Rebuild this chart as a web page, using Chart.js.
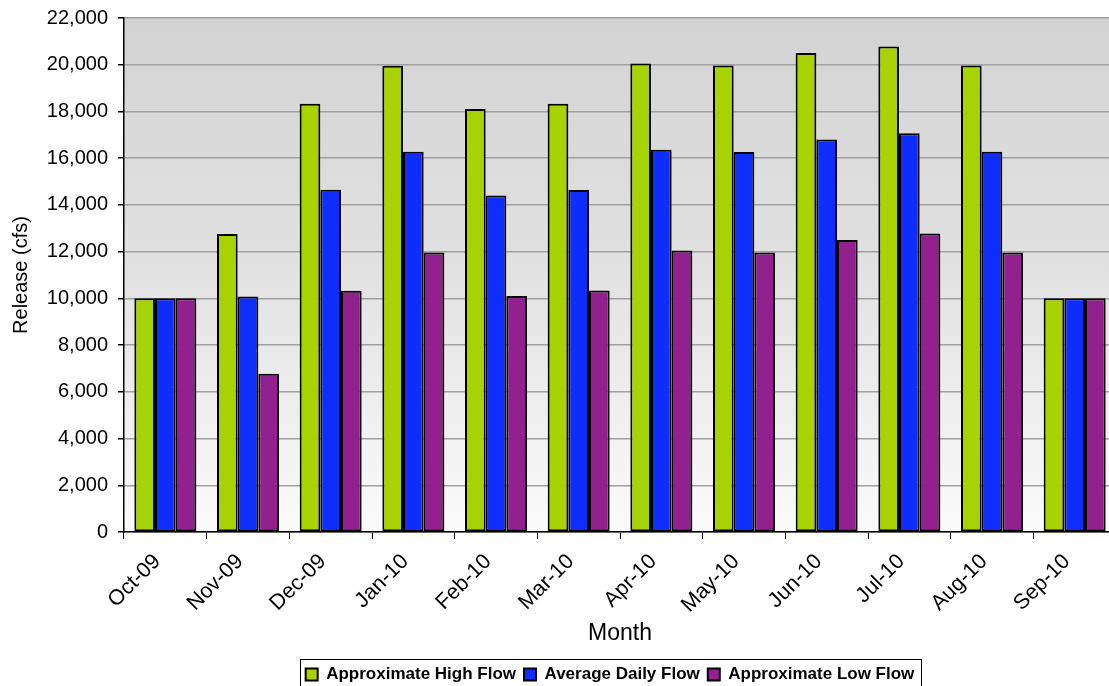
<!DOCTYPE html>
<html>
<head>
<meta charset="utf-8">
<script src="https://cdn.jsdelivr.net/npm/chart.js@4.4.1/dist/chart.umd.min.js"></script>
<style>
    html, body { margin: 0; padding: 0; background: #fff; overflow: hidden; }
    #wrap { width: 1116px; height: 686px; }
</style>
</head>
<body>
<div id="wrap"><canvas id="flowChart"></canvas></div>
<script>
// data
const months = ['Oct-09', 'Nov-09', 'Dec-09', 'Jan-10', 'Feb-10', 'Mar-10', 'Apr-10', 'May-10', 'Jun-10', 'Jul-10', 'Aug-10', 'Sep-10'];
const highFlow = [10000, 12750, 18330, 19960, 18100, 18330, 20050, 19970, 20500, 20780, 19970, 10000];
const avgFlow = [10000, 10080, 14650, 16270, 14400, 14640, 16360, 16260, 16800, 17070, 16270, 10000];
const lowFlow = [10000, 6770, 10330, 11960, 10100, 10340, 12050, 11960, 12500, 12780, 11960, 10000];
const seriesNames = ['Approximate High Flow', 'Average Daily Flow', 'Approximate Low Flow'];
const seriesColors = ['#A9D300', '#0D2EFF', '#93208F'];

const FONT = '"Liberation Sans", Arial, sans-serif';

//gradient behind the plot + legend frame
const plotBackground = {
    id: 'plotBackground',
    beforeDraw(chart) {
        const { ctx, chartArea: a } = chart;
        const g = ctx.createLinearGradient(0, a.top, 0, a.bottom);
        g.addColorStop(0, '#d3d3d3');
        g.addColorStop(0.5, '#e2e2e2');
        g.addColorStop(1, '#fbfbfb');
        ctx.save();
        ctx.fillStyle = g;
        ctx.fillRect(a.left, a.top, a.right - a.left, a.bottom - a.top);
        ctx.restore();

        // legend sits a bit left of the plot centre and lower, like the original
        const lg = chart.legend;
        if (lg && !lg._moved) {
            const half = (lg.right - lg.left) / 2;
            const cx = (a.left + a.right) / 2 - 10;
            lg.left = cx - half;
            lg.right = cx + half;
            lg.top += 7;
            lg.bottom += 7;
            lg._moved = true;
        }
    },
    afterDraw(chart) {
        const lg = chart.legend;
        if (!lg || !lg.lineWidths) return;
        const cx = (lg.left + lg.right) / 2;
        const w = lg.lineWidths[0] + 4;
        const { ctx } = chart;
        ctx.save();
        ctx.strokeStyle = '#000';
        ctx.lineWidth = 1;
        ctx.strokeRect(Math.round(cx - w / 2) + 0.5, lg.top + 1.5, Math.round(w), lg.height + 20);
        ctx.restore();
    }
};

const ctx = document.getElementById('flowChart');
const flowChart = new Chart(ctx, {
    type: 'bar',
    data: {
        labels: months,
        datasets: [highFlow, avgFlow, lowFlow].map((values, i) => ({
            label: seriesNames[i],
            data: values,
            backgroundColor: seriesColors[i],
            borderColor: '#000',
            borderWidth: 2,
            borderSkipped: false,
            categoryPercentage: 0.75,
            barPercentage: 1.0
        }))
    },
    options: {
        responsive: true,
        maintainAspectRatio: false,
        animation: false,
        layout: { autoPadding: false, padding: { top: 18, right: 0, left: 0, bottom: 0 } },
        plugins: {
            tooltip: { enabled: false },
            legend: {
                position: 'bottom',
                labels: {
                    color: '#000',
                    boxWidth: 12,
                    boxHeight: 12,
                    padding: 8,
                    font: { family: FONT, size: 17, weight: 'bold' }
                }
            }
        },
        scales: {
            x: {
                grid: {
                    offset: true,
                    drawOnChartArea: false,
                    drawTicks: true,
                    tickLength: 7,
                    tickColor: '#000'
                },
                border: { display: true, color: '#000', width: 1.5 },
                ticks: {
                    color: '#000',
                    autoSkip: false,
                    maxRotation: 45,
                    minRotation: 45,
                    padding: 10,
                    labelOffset: -8,
                    font: { family: FONT, size: 21.5 }
                },
                title: {
                    display: true,
                    text: 'Month',
                    color: '#000',
                    font: { family: FONT, size: 23 },
                    padding: { top: 0, bottom: 4 }
                },
                afterFit(s) {
                    const lgH = s.chart.legend ? s.chart.legend.height : 30;
                    s.height = 686 - 532 - lgH;
                }
            },
            y: {
                min: 0,
                max: 22000,
                grid: {
                    color: '#a0a0a0',
                    lineWidth: 1.5,
                    tickColor: '#000',
                    tickLength: 6
                },
                border: { display: true, color: '#000', width: 1.5 },
                ticks: {
                    stepSize: 2000,
                    color: '#000',
                    padding: 10,
                    font: { family: FONT, size: 20, lineHeight: 1 },
                    callback: v => v.toLocaleString('en-US')
                },
                title: {
                    display: true,
                    text: 'Release (cfs)',
                    color: '#000',
                    font: { family: FONT, size: 20 },
                    padding: { top: 9, bottom: 4 }
                },
                afterFit(s) {
                    s.width = 124;
                    s.paddingTop = 0;
                    s.paddingBottom = 0;
                }
            }
        }
    },
    plugins: [plotBackground]
});
</script>
</body>
</html>
